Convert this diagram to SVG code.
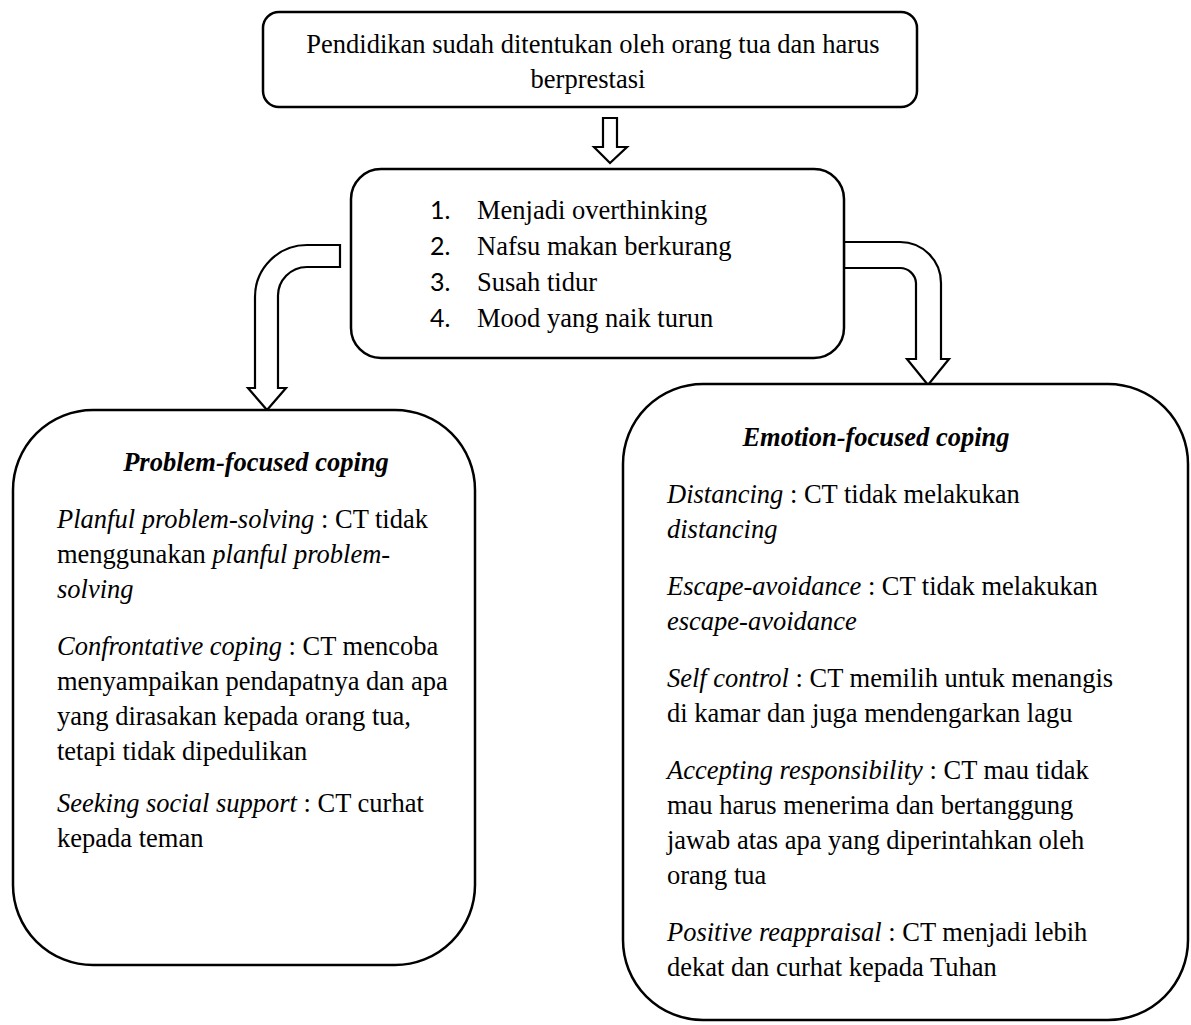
<svg xmlns="http://www.w3.org/2000/svg" width="1191" height="1025" viewBox="0 0 1191 1025">
<style>
.box{fill:#fff;stroke:#000;stroke-width:2.5}
.arr{fill:#fff;stroke:#000;stroke-width:2.2;stroke-linejoin:miter}
.t{font-family:"Liberation Serif","Times New Roman",serif;font-size:26.5px;fill:#000}
.n{font-family:Lato,"Liberation Sans",sans-serif;font-size:25px;fill:#000}
.h{font-weight:bold;font-style:italic}
.i{font-style:italic}
</style>
<rect width="1191" height="1025" fill="#fff"/>
<g id="connectors">
<path class="arr" d="M603,118 H617 V147 H627 L610,163 L594,147 H603 Z"/>
<path class="arr" d="M340,245 H307 A52,52 0 0 0 255,297 V388 H248 L267,410 L286,388 H278 V297 A29,29 0 0 1 307,267 H340 Z"/>
<path class="arr" d="M844,242 H900 A41,41 0 0 1 941,283 V359 H949 L928,385 L907,359 H916 V283 A16,16 0 0 0 900,268 H844 Z"/>
</g>
<g id="node-top">
<rect class="box" x="263" y="12" width="654" height="95" rx="16"/>
<text class="t" x="593" y="53" text-anchor="middle">Pendidikan sudah ditentukan oleh orang tua dan harus</text>
<text class="t" x="588" y="88" text-anchor="middle">berprestasi</text>
</g>
<g id="node-middle">
<rect class="box" x="351" y="169" width="493" height="189" rx="30"/>
<text class="n" x="430" y="219">1.</text><text class="t" x="477" y="219">Menjadi overthinking</text>
<text class="n" x="430" y="255">2.</text><text class="t" x="477" y="255">Nafsu makan berkurang</text>
<text class="n" x="430" y="291">3.</text><text class="t" x="477" y="291">Susah tidur</text>
<text class="n" x="430" y="327">4.</text><text class="t" x="477" y="327">Mood yang naik turun</text>
</g>
<g id="node-problem">
<rect class="box" x="13" y="410" width="462" height="555" rx="80"/>
<text class="t h" x="256" y="471" text-anchor="middle">Problem-focused coping</text>
<text class="t" x="57" y="528"><tspan class="i">Planful problem-solving</tspan> : CT tidak</text>
<text class="t" x="57" y="563">menggunakan <tspan class="i">planful problem-</tspan></text>
<text class="t i" x="57" y="598">solving</text>
<text class="t" x="57" y="655"><tspan class="i">Confrontative coping</tspan> : CT mencoba</text>
<text class="t" x="57" y="690">menyampaikan pendapatnya dan apa</text>
<text class="t" x="57" y="725">yang dirasakan kepada orang tua,</text>
<text class="t" x="57" y="760">tetapi tidak dipedulikan</text>
<text class="t" x="57" y="812"><tspan class="i">Seeking social support</tspan> : CT curhat</text>
<text class="t" x="57" y="847">kepada teman</text>
</g>
<g id="node-emotion">
<rect class="box" x="623" y="384" width="565" height="636" rx="80"/>
<text class="t h" x="876" y="446" text-anchor="middle">Emotion-focused coping</text>
<text class="t" x="667" y="503"><tspan class="i">Distancing</tspan> : CT tidak melakukan</text>
<text class="t i" x="667" y="538">distancing</text>
<text class="t" x="667" y="595"><tspan class="i">Escape-avoidance</tspan> : CT tidak melakukan</text>
<text class="t i" x="667" y="630">escape-avoidance</text>
<text class="t" x="667" y="687"><tspan class="i">Self control</tspan> : CT memilih untuk menangis</text>
<text class="t" x="667" y="722">di kamar dan juga mendengarkan lagu</text>
<text class="t" x="667" y="779"><tspan class="i">Accepting responsibility</tspan> : CT mau tidak</text>
<text class="t" x="667" y="814">mau harus menerima dan bertanggung</text>
<text class="t" x="667" y="849">jawab atas apa yang diperintahkan oleh</text>
<text class="t" x="667" y="884">orang tua</text>
<text class="t" x="667" y="941"><tspan class="i">Positive reappraisal</tspan> : CT menjadi lebih</text>
<text class="t" x="667" y="976">dekat dan curhat kepada Tuhan</text>
</g>
</svg>
